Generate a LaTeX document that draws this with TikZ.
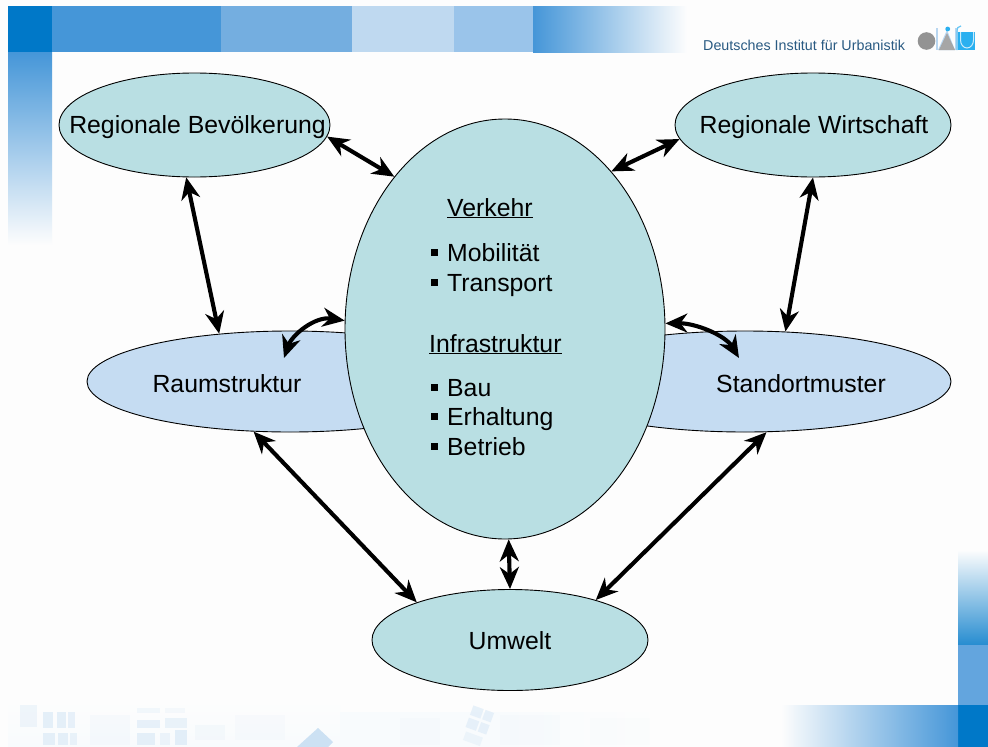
\documentclass[tikz,border=0pt]{standalone}
\usepackage{fontspec}
\setmainfont{Liberation Sans}
\usetikzlibrary{arrows.meta,shapes.geometric}
\definecolor{teal1}{HTML}{B9DFE3}
\definecolor{blue1}{HTML}{C5DCF2}
\definecolor{bandA}{HTML}{0078C8}
\definecolor{bandB}{HTML}{4596D8}
\definecolor{bandC}{HTML}{74AEE0}
\definecolor{bandD}{HTML}{BFD9F0}
\definecolor{bandE}{HTML}{9AC4EA}
\definecolor{bandF}{HTML}{63A5DE}
\definecolor{paper}{HTML}{FDFDFD}
\definecolor{wash}{HTML}{F8FBFD}
\definecolor{tile}{HTML}{E2EEF8}
\definecolor{logocyan}{HTML}{2AB0F0}
\tikzset{
  blob/.style={ellipse,draw=black,line width=0.9pt,inner sep=0pt},
  tealblob/.style={blob,fill=teal1},
  blueblob/.style={blob,fill=blue1},
  link/.style={line width=4.1pt,{Stealth[length=22pt,width=19pt,inset=7pt]}-{Stealth[length=22pt,width=19pt,inset=7pt]}},
  caption/.style={anchor=base,inner sep=0pt,font=\fontsize{24.8}{28}\selectfont},
  body/.style={anchor=base west,inner sep=0pt,font=\fontsize{24.8}{28}\selectfont},
  bullet/.style={fill=black,minimum size=7pt,inner sep=0pt,rectangle}
}
\begin{document}
\begin{tikzpicture}[x=1pt,y=-1pt]
\useasboundingbox (0,0) rectangle (988,747);
\fill[paper] (0,0) rectangle (988,747);
% top band
\fill[bandA] (8,6) rectangle (52,52);
\fill[bandB] (52,6) rectangle (221,52);
\fill[bandC] (221,6) rectangle (352,52);
\fill[bandD] (352,6) rectangle (454,52);
\fill[bandE] (454,6) rectangle (533,52);
\shade[left color=bandB,right color=paper] (533,6) rectangle (687,52);
% left band
\shade[top color=bandB,bottom color=paper] (8,52) rectangle (52,245);
% right column
\shade[top color=paper,bottom color=bandA!85!white] (958,550) rectangle (988,645);
\fill[bandF] (958,645) rectangle (988,705);
\fill[bandA] (958,705) rectangle (988,747);
\shade[left color=paper,right color=bandB] (781,705) rectangle (958,747);
% faint city texture
\shade[top color=paper,bottom color=wash] (8,700) rectangle (340,747);
\shade[left color=wash,right color=paper,middle color=wash] (340,712) rectangle (665,747);
\foreach \xa/\ya/\xb/\yb/\op in {
  20/705/37/727/50, 43/712/53/728/90, 57/712/66/728/90, 68/712/75/728/80,
  43/733/55/745/90, 58/733/68/745/90, 70/733/77/745/70,
  137/708/160/713/40, 165/708/185/713/30,
  137/720/160/728/80, 165/718/187/728/70, 137/733/155/745/90, 160/733/170/745/60, 175/730/187/745/100,
  195/725/225/740/25, 90/715/130/745/18, 235/715/285/740/15,
  400/718/440/745/10, 500/715/560/745/10, 590/718/650/745/6}{
  \fill[tile,opacity=\op/100] (\xa,\ya) rectangle (\xb,\yb);
}
\fill[tile!80!bandC] (297,747) -- (318,728) -- (333,742) -- (328,747) -- cycle;
\begin{scope}[shift={(478,722)},rotate=-20]
  \fill[tile,opacity=.8] (-10,-14) rectangle (1,-4);
  \fill[tile,opacity=.8] (3,-14) rectangle (12,-4);
  \fill[tile,opacity=.8] (-10,-1) rectangle (1,9);
  \fill[tile,opacity=.8] (3,-1) rectangle (12,9);
  \fill[tile,opacity=.5] (-8,13) rectangle (10,22);
\end{scope}
% logo
\fill[bandE!70!white] (936,28) rectangle (958,50);
\fill[paper] (938,28) rectangle (955,50);
\fill[bandE!70!white] (938,50) -- (947,30) -- (955,50) -- cycle;
\fill[gray!85] (926.5,41) circle (8.8);
\fill[gray!70] (947,33) -- (955,50) -- (939,50) -- cycle;
\fill[logocyan] (947.7,29) circle (2.4);
\fill[logocyan] (958,32) rectangle (975,50);
\draw[white!75!logocyan,line width=1pt] (960.5,32) -- (960.5,40) arc[start angle=180,end angle=0,x radius=6.5,y radius=8] -- (973.5,32);
\draw[logocyan!70,line width=1.2pt] (957,50) -- (957,32) .. controls (957,28) and (958,26) .. (961,26);
\node[anchor=base west,inner sep=0pt,text=bandB!60!black,font=\fontsize{14.3}{16}\selectfont] (brand) at (703,50) {Deutsches Institut für Urbanistik};
% ellipses
\node[tealblob,minimum width=271pt,minimum height=104pt] (bev) at (194.5,125) {};
\node[tealblob,minimum width=276pt,minimum height=104pt] (wirt) at (813,125) {};
\node[blueblob,minimum width=406pt,minimum height=101pt] (raum) at (290,381.5) {};
\node[blueblob,minimum width=412pt,minimum height=101pt] (stand) at (745,381.5) {};
\node[tealblob,minimum width=320pt,minimum height=420pt] (verk) at (505,329) {};
\node[tealblob,minimum width=276pt,minimum height=101pt] (umw) at (510,640) {};
% ellipse captions
\node[caption] (bevt) at (197.5,133) {Regionale Bevölkerung};
\node[caption] (wirtt) at (814,133) {Regionale Wirtschaft};
\node[caption] (raumt) at (227,392) {Raumstruktur};
\node[caption] (standt) at (801,392) {Standortmuster};
\node[caption] (umwt) at (510,649) {Umwelt};
% centre text
\node[body] (t1) at (447,216) {\underline{Verkehr}};
\node[body] (t2) at (447,261) {Mobilität};
\node[body] (t3) at (447,291) {Transport};
\node[body] (t4) at (429,352) {\underline{Infrastruktur}};
\node[body] (t5) at (447,396) {Bau};
\node[body] (t6) at (447,425) {Erhaltung};
\node[body] (t7) at (447,455) {Betrieb};
\node[bullet] (b2) at (434.5,252.5) {};
\node[bullet] (b3) at (434.5,282) {};
\node[bullet] (b5) at (434.5,387) {};
\node[bullet] (b6) at (434.5,416) {};
\node[bullet] (b7) at (434.5,446) {};
% free ends of the curved links
\coordinate (raumtip) at (284,358);
\coordinate (standtip) at (739,358);
% connectors
\draw[link] (bev.-5.6) -- (verk.126.8);
\draw[link] (verk.56.1) -- (wirt.186.2);
\draw[link] (bev.-99.3) -- (raum.146.2);
\draw[link] (wirt.-90) -- (stand.51);
\draw[link] (verk.177) .. controls (315,316) and (292,335) .. (raumtip);
\draw[link] (verk.2) .. controls (695,323) and (725,335) .. (standtip);
\draw[link] (raum.-126.5) -- (umw.158.5);
\draw[link] (stand.-67) -- (umw.25.6);
\draw[link] (verk.-89) -- (umw.90);
\end{tikzpicture}
\end{document}
